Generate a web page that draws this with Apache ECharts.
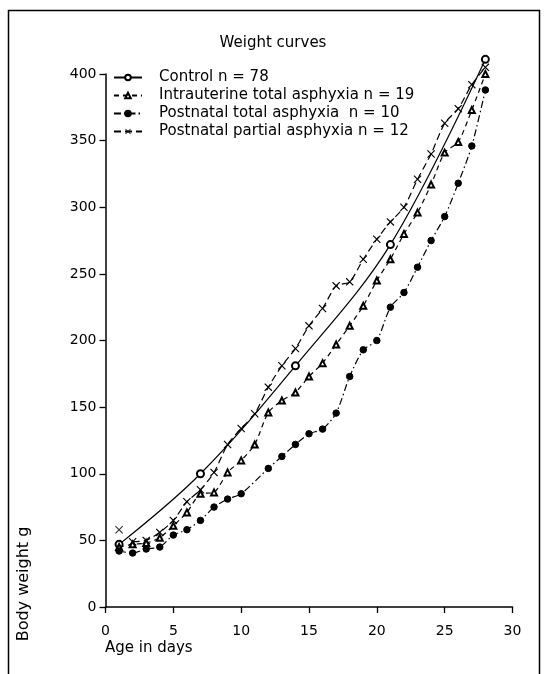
<!DOCTYPE html>
<html>
<head>
<meta charset="utf-8">
<title>Weight curves</title>
<script src="https://cdn.jsdelivr.net/npm/echarts@6/dist/echarts.min.js"></script>
<style>
    html, body { margin: 0; background: #fff; }
    #chart { width: 547px; height: 674px; }
</style>
</head>
<body>
<div id="chart"></div>
<script>
// ================* WEIGHT CURVES *

const days = [1, 2, 3, 4, 5, 6, 7, 8, 9, 10, 11, 12, 13, 14, 15, 16, 17, 18, 19, 20, 21, 22, 23, 24, 25, 26, 27, 28];

// control group only measured weekly
const controlDays = [1, 7, 14, 21, 28];
const control = [47, 100, 181, 272, 411];

const intrauterine = [45, 47, 48, 52, 61, 71, 85, 86, 101, 110, 122, 146, 155, 161, 173, 183, 197, 211, 226, 245, 261, 280, 296, 317, 341, 349, 373, 400];
const postnatalTotal = [42, 40.5, 43.5, 45, 54, 58, 65, 75, 81, 85, null, 104, 113, 122, 130, 133.5, 145.5, 173, 193, 200, 225, 236, 255, 275, 293, 318, 346, 388];
// day 1 of the partial group stands apart from its curve
const postnatalPartial = [null, 49, 50, 56, 65, 79, 88, 101, 122, 134, 145, 165, 181, 194, 211, 224, 241, 244, 261, 276, 289, 300, 321, 340, 363, 374, 392, 405];
const partialDay1 = [[1, 58]];

const xTicks = [0, 5, 10, 15, 20, 25, 30];
const yTicks = [0, 50, 100, 150, 200, 250, 300, 350, 400];

const seriesNames = [
    'Control n = 78',
    'Intrauterine total asphyxia n = 19',
    'Postnatal total asphyxia  n = 10',
    'Postnatal partial asphyxia n = 12'
];

function pairs(xs, ys) {
    return xs.map(function (x, i) { return [x, ys[i]]; });
}

const crossSymbol = 'path://M0,1L1,0L5,4L9,0L10,1L6,5L10,9L9,10L5,6L1,10L0,9L4,5Z';
const font = 'DejaVu Sans';

var chart = echarts.init(document.getElementById('chart'));

option = {
    animation: false,
    backgroundColor: '#fff',
    textStyle: { fontFamily: font, color: '#000' },
    title: {
        text: 'Weight curves',
        left: 268,
        top: 31,
        textAlign: 'center',
        textStyle: { fontFamily: font, fontSize: 15, fontWeight: 'normal', color: '#000' }
    },
    legend: {
        orient: 'vertical',
        left: 108,
        top: 65,
        itemWidth: 28,
        itemHeight: 7,
        itemGap: 3,
        data: seriesNames,
        textStyle: { fontFamily: font, fontSize: 15, color: '#000', padding: [0, 0, 0, 12], lineHeight: 14 }
    },
    grid: {
        left: 105.5,
        right: 34.5,
        top: 74,
        bottom: 67
    },
    xAxis: {
        type: 'value',
        min: xTicks[0],
        max: xTicks[xTicks.length - 1],
        interval: 5,
        axisLine: { lineStyle: { color: '#000', width: 1.5 } },
        axisTick: { inside: false, length: 6, lineStyle: { color: '#000', width: 1.3 } },
        axisLabel: { fontFamily: font, fontSize: 14, color: '#000', margin: 17 },
        splitLine: { show: false }
    },
    yAxis: {
        type: 'value',
        min: yTicks[0],
        max: yTicks[yTicks.length - 1],
        interval: 50,
        axisLine: { show: true, lineStyle: { color: '#000', width: 1.5 } },
        axisTick: { show: true, inside: false, length: 6, lineStyle: { color: '#000', width: 1.3 } },
        axisLabel: { fontFamily: font, fontSize: 14, color: '#000', margin: 9 },
        splitLine: { show: false }
    },
    graphic: [
        {
            type: 'rect',
            shape: { x: 8.5, y: 10.5, width: 531, height: 700 },
            style: { fill: 'none', stroke: '#000', lineWidth: 1.5 },
            silent: true
        },
        {
            type: 'text',
            x: 105,
            y: 648,
            style: { text: 'Age in days', font: '15px "DejaVu Sans"', fill: '#000', textVerticalAlign: 'middle' }
        },
        {
            type: 'text',
            x: 24,
            y: 584,
            rotation: Math.PI / 2,
            style: { text: 'Body weight g', font: '16px "DejaVu Sans"', fill: '#000', textAlign: 'center', textVerticalAlign: 'middle' }
        }
    ],
    series: [{
            name: seriesNames[0],
            type: 'line',
            clip: false,
            smooth: 0.35,
            symbol: 'emptyCircle',
            symbolSize: 7,
            itemStyle: { color: '#000', borderWidth: 1.2 },
            lineStyle: { color: '#000', width: 1.2, type: 'solid' },
            data: pairs(controlDays, control)
        },
        {
            name: seriesNames[1],
            type: 'line',
            clip: false,
            smooth: 0.25,
            symbol: 'emptyTriangle',
            symbolSize: 6,
            itemStyle: { color: '#000', borderWidth: 1 },
            lineStyle: { color: '#000', width: 1.2, type: [5, 4] },
            data: pairs(days, intrauterine)
        },
        {
            name: seriesNames[2],
            type: 'line',
            clip: false,
            smooth: 0.25,
            connectNulls: true,
            symbol: 'circle',
            symbolSize: 6.5,
            itemStyle: { color: '#000', borderColor: '#000', borderWidth: 1 },
            lineStyle: { color: '#000', width: 1.2, type: [7, 3, 1.5, 3] },
            data: pairs(days, postnatalTotal)
        },
        {
            name: seriesNames[3],
            type: 'line',
            clip: false,
            smooth: 0.25,
            symbol: crossSymbol,
            symbolSize: 8,
            itemStyle: { color: '#000' },
            lineStyle: { color: '#000', width: 1.2, type: [7, 4] },
            data: pairs(days, postnatalPartial)
        },
        {
            name: 'partial day 1',
            type: 'scatter',
            clip: false,
            symbol: crossSymbol,
            symbolSize: 8,
            itemStyle: { color: '#000' },
            data: partialDay1
        }
    ]
};
chart.setOption(option);
</script>
</body>
</html>
